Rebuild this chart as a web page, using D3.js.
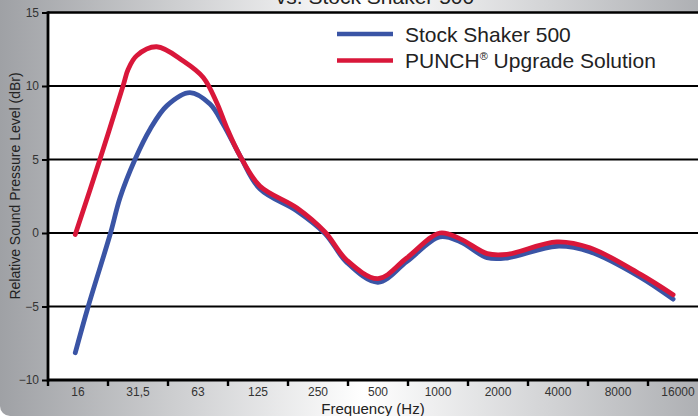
<!DOCTYPE html>
<html>
<head>
<meta charset="utf-8">
<script src="https://cdn.jsdelivr.net/npm/d3@7"></script>
<style>
  body { margin: 0; background: #fff; }
  svg { display: block; font-family: "Liberation Sans", Arial, sans-serif; }
</style>
</head>
<body>
<svg id="chart"></svg>
<script>
// band labels (octave centres) and y ticks
const bandLabels = ["16", "31,5", "63", "125", "250", "500", "1000", "2000", "4000", "8000", "16000"];
const yTicks = [-10, -5, 0, 5, 10, 15];

// Stock Shaker 500 (Hz, dBr)
const stockFreq = [15.5, 18.0, 23.3, 26.0, 30.9, 36.8, 44.6, 58.3, 73.5, 85.6, 104, 130.7, 200.8, 278.1, 357, 512, 714, 1046, 1323, 1807, 2272, 4038, 5913, 10583, 15482];
const stockLevel = [-8.15, -5.0, 0, 2.4, 5.0, 7.06, 8.65, 9.55, 8.77, 7.4, 5.25, 3.0, 1.5, -0.05, -2.0, -3.35, -1.95, -0.27, -0.6, -1.68, -1.7, -0.9, -1.27, -3.0, -4.5];

// PUNCH upgrade (Hz, dBr)
const punchFreq = [15.5, 20.6, 27.0, 28.6, 31.5, 39.7, 54.0, 68.0, 79.4, 89.2, 104, 130.7, 200.8, 278.1, 357, 512, 714, 1046, 1323, 1807, 2272, 4038, 5913, 10583, 15482];
const punchLevel = [-0.1, 5.0, 10.06, 11.15, 12.06, 12.67, 11.7, 10.58, 8.88, 7.17, 5.25, 3.2, 1.7, 0.05, -1.85, -3.1, -1.7, 0, -0.4, -1.4, -1.45, -0.6, -1.0, -2.8, -4.2];

const w = 698;
const h = 416;
const leftPad = 48;
const topPad = 12.5;
const bottomY = 380;

const svg = d3.select("#chart").attr("width", w).attr("height", h);

const defs = svg.append("defs");
const grad = defs.append("linearGradient").attr("id", "bg").attr("x1", "0%").attr("x2", "100%");
grad.append("stop").attr("offset", "0%").attr("stop-color", "#9fa1a5");
grad.append("stop").attr("offset", "50%").attr("stop-color", "#ffffff");
grad.append("stop").attr("offset", "100%").attr("stop-color", "#a7a9ad");

// panel background, only bottom-left corner shows rounded
svg.append("rect")
   .attr("x", 0).attr("y", -30)
   .attr("width", w + 30).attr("height", h + 30)
   .attr("rx", 10)
   .style("fill", "url(#bg)");

// title is cropped at the top in the original too
svg.append("text")
   .attr("x", 375).attr("y", 4)
   .attr("text-anchor", "middle")
   .style("font-size", "21px")
   .style("fill", "#222")
   .text("vs. Stock Shaker 500");

const xScale = d3.scaleLog().base(2)
   .domain([16 / Math.SQRT2, 16 * Math.pow(2, 10.5)])
   .range([leftPad, leftPad + 60 * 11]);
const yScale = d3.scaleLinear().domain([-10, 15]).range([bottomY, topPad]);

svg.append("rect")
   .attr("x", leftPad).attr("y", topPad)
   .attr("width", w - leftPad).attr("height", bottomY - topPad)
   .style("fill", "#fff");

// gridlines
svg.append("g")
   .selectAll("line")
   .data(yTicks.filter(d => d > -10))
   .enter()
   .append("line")
   .attr("x1", leftPad).attr("x2", w)
   .attr("y1", d => yScale(d)).attr("y2", d => yScale(d))
   .style("stroke", "#000")
   .style("stroke-width", d => d === 15 ? 2.6 : 2);

// y axis
const yAxis = svg.append("g")
   .attr("transform", `translate(${leftPad}, 0)`)
   .call(d3.axisLeft(yScale).tickValues(yTicks).tickSize(6).tickPadding(3));
yAxis.select(".domain").remove();
yAxis.selectAll(".tick line").style("stroke", "#000").style("stroke-width", 2);
yAxis.selectAll(".tick text")
   .style("font-size", "12px")
   .style("fill", "#333")
   .style("font-family", "Liberation Sans, Arial, sans-serif");

// x axis, ticks at band boundaries
const bandEdges = d3.range(0, 11).map(i => 16 * Math.pow(2, i - 0.5));
svg.append("g")
   .selectAll("line")
   .data(bandEdges)
   .enter()
   .append("line")
   .attr("x1", d => xScale(d)).attr("x2", d => xScale(d))
   .attr("y1", bottomY).attr("y2", bottomY + 6)
   .style("stroke", "#000")
   .style("stroke-width", 2.4);

svg.append("g")
   .selectAll("text")
   .data(bandLabels)
   .enter()
   .append("text")
   .attr("x", (d, i) => xScale(16 * Math.pow(2, i)))
   .attr("y", 396)
   .attr("text-anchor", "middle")
   .style("font-size", "12px")
   .style("fill", "#333")
   .text(d => d);

svg.append("line")
   .attr("x1", leftPad).attr("x2", w)
   .attr("y1", bottomY).attr("y2", bottomY)
   .style("stroke", "#000").style("stroke-width", 2.8);
svg.append("line")
   .attr("x1", leftPad).attr("x2", leftPad)
   .attr("y1", topPad - 1.3).attr("y2", bottomY + 1.4)
   .style("stroke", "#000").style("stroke-width", 2.8);

svg.append("text")
   .attr("x", 373).attr("y", 414)
   .attr("text-anchor", "middle")
   .style("font-size", "15px")
   .style("fill", "#222")
   .text("Frequency (Hz)");

svg.append("text")
   .attr("transform", "translate(20, 186) rotate(-90)")
   .attr("text-anchor", "middle")
   .style("font-size", "14px")
   .style("fill", "#222")
   .text("Relative Sound Pressure Level (dBr)");

// curves
const line = d3.line()
   .x(d => xScale(d[0]))
   .y(d => yScale(d[1]))
   .curve(d3.curveCatmullRom.alpha(0.5));

const series = [
  {name: "Stock Shaker 500", color: "#3a54a5", pts: d3.zip(stockFreq, stockLevel)},
  {name: "PUNCH", color: "#d9173a", pts: d3.zip(punchFreq, punchLevel)}
];

svg.append("g")
   .selectAll("path")
   .data(series)
   .enter()
   .append("path")
   .attr("d", d => line(d.pts))
   .style("fill", "none")
   .style("stroke", d => d.color)
   .style("stroke-width", 4.8)
   .style("stroke-linecap", "round")
   .style("stroke-linejoin", "round");

// legend
const legend = svg.append("g");
legend.selectAll("line")
   .data(series)
   .enter()
   .append("line")
   .attr("x1", 337).attr("x2", 393)
   .attr("y1", (d, i) => 34 + i * 26.5).attr("y2", (d, i) => 34 + i * 26.5)
   .style("stroke", d => d.color)
   .style("stroke-width", 4.5);

legend.append("text")
   .attr("x", 405).attr("y", 41.5)
   .style("font-size", "21px")
   .style("fill", "#222")
   .text("Stock Shaker 500");

const punchText = legend.append("text")
   .attr("x", 405).attr("y", 68)
   .style("font-size", "21px")
   .style("fill", "#222");
punchText.append("tspan").text("PUNCH");
punchText.append("tspan").attr("dy", -8).style("font-size", "11px").text("®");
punchText.append("tspan").attr("dy", 8).text(" Upgrade Solution");
</script>
</body>
</html>
